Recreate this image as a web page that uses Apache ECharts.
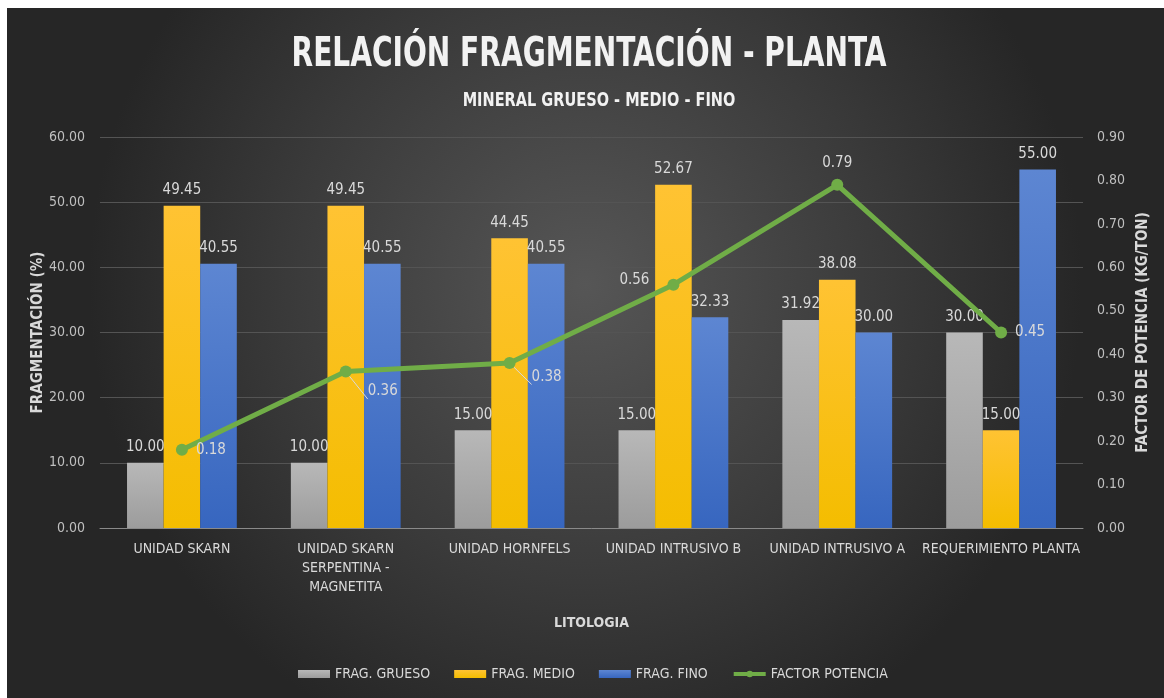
<!DOCTYPE html>
<html>
<head>
<meta charset="utf-8">
<script src="https://cdn.jsdelivr.net/npm/echarts@6/dist/echarts.min.js"></script>
<style>
  html, body { margin: 0; padding: 0; background: #fff; }
  #chart { width: 1164px; height: 698px; }
</style>
</head>
<body>
<div id="chart"></div>
<script>
var categories = ['UNIDAD SKARN', 'UNIDAD SKARN\nSERPENTINA -\nMAGNETITA', 'UNIDAD HORNFELS',
    'UNIDAD INTRUSIVO B', 'UNIDAD INTRUSIVO A', 'REQUERIMIENTO PLANTA'];
var fragGrueso = [10.00, 10.00, 15.00, 15.00, 31.92, 30.00];
var fragMedio = [49.45, 49.45, 44.45, 52.67, 38.08, 15.00];
var fragFino = [40.55, 40.55, 40.55, 32.33, 30.00, 55.00];
var factorPotencia = [0.18, 0.36, 0.38, 0.56, 0.79, 0.45];
// where each factor label sits around its point
var factorLabelPos = ['right', 'right', 'right', 'left', 'top', 'right'];
var factorLabelShift = [[0, 0], [8, 20], [8, 14], [-10, -5], [0, 0], [0, 0]];
var factorLeader = [false, true, true, true, false, false];

var font = "'DejaVu Sans Condensed', sans-serif";
var txt = '#d9d9d9';

function grad(top, bottom) {
    return new echarts.graphic.LinearGradient(0, 0, 0, 1, [
        {offset: 0, color: top},
        {offset: 1, color: bottom}
    ]);
}

var barLabel = {
    show: true,
    position: 'top',
    distance: 8,
    color: txt,
    fontSize: 15,
    fontFamily: font,
    formatter: function (p) { return p.value.toFixed(2); }
};

var option = {
    backgroundColor: '#fff',
    textStyle: {fontFamily: font},
    graphic: [
        {
            type: 'rect',
            z: -10,
            silent: true,
            shape: {x: 7, y: 8, width: 1157, height: 690},
            style: {
                fill: new echarts.graphic.RadialGradient(0.5, 0.4, 0.72, [
                    {offset: 0, color: '#565656'},
                    {offset: 0.6, color: '#3a3a3a'},
                    {offset: 1, color: '#262626'}
                ])
            }
        },
        {
            type: 'text',
            x: 589,
            y: 56,
            scaleX: 0.78,
            silent: true,
            style: {
                text: 'RELACIÓN FRAGMENTACIÓN - PLANTA',
                fill: '#f2f2f2',
                font: 'bold 40px ' + font,
                align: 'center',
                verticalAlign: 'middle',
                shadowColor: 'rgba(0,0,0,0.8)',
                shadowBlur: 4,
                shadowOffsetY: 2
            }
        },
        {
            type: 'text',
            x: 599,
            y: 101,
            scaleX: 0.85,
            silent: true,
            style: {
                text: 'MINERAL GRUESO - MEDIO - FINO',
                fill: '#f2f2f2',
                font: 'bold 19px ' + font,
                align: 'center',
                verticalAlign: 'middle',
                shadowColor: 'rgba(0,0,0,0.8)',
                shadowBlur: 3,
                shadowOffsetY: 1
            }
        }
    ],
    legend: {
        bottom: 12,
        left: 293,
        itemWidth: 32,
        itemHeight: 8,
        itemGap: 24,
        lineStyle: {width: 4},
        textStyle: {color: txt, fontSize: 14, fontFamily: font},
        data: [
            {name: 'FRAG. GRUESO', icon: 'rect'},
            {name: 'FRAG. MEDIO', icon: 'rect'},
            {name: 'FRAG. FINO', icon: 'rect'},
            {name: 'FACTOR POTENCIA'}
        ]
    },
    grid: {left: 100, right: 81, top: 137, bottom: 170},
    xAxis: {
        type: 'category',
        data: categories,
        name: 'LITOLOGIA',
        nameLocation: 'middle',
        nameGap: 88,
        nameTextStyle: {color: txt, fontSize: 14, fontWeight: 'bold', fontFamily: font},
        axisLine: {lineStyle: {color: '#8a8a8a', width: 1}},
        axisTick: {show: false},
        axisLabel: {color: txt, fontSize: 14, margin: 12, lineHeight: 19, fontFamily: font, interval: 0}
    },
    yAxis: [
        {
            type: 'value',
            min: 0,
            max: 60,
            interval: 10,
            name: 'FRAGMENTACIÓN (%)',
            nameLocation: 'middle',
            nameGap: 54,
            nameMoveOverlap: false,
            nameTextStyle: {color: txt, fontSize: 15, fontWeight: 'bold', fontFamily: font},
            axisLine: {show: false},
            axisTick: {show: false},
            splitLine: {lineStyle: {color: '#545454', width: 1}},
            axisLabel: {
                color: '#bfbfbf', fontSize: 14, margin: 15, fontFamily: font,
                formatter: function (v) { return v.toFixed(2); }
            }
        },
        {
            type: 'value',
            min: 0,
            max: 0.9,
            interval: 0.1,
            name: 'FACTOR DE POTENCIA (KG/TON)',
            nameLocation: 'middle',
            nameGap: 53,
            nameRotate: 90,
            nameTextStyle: {color: txt, fontSize: 15, fontWeight: 'bold', fontFamily: font},
            axisLine: {show: false},
            axisTick: {show: false},
            splitLine: {show: false},
            axisLabel: {
                color: '#bfbfbf', fontSize: 14, margin: 14, fontFamily: font,
                formatter: function (v) { return v.toFixed(2); }
            }
        }
    ],
    series: [
        {
            name: 'FRAG. GRUESO',
            type: 'bar',
            data: fragGrueso,
            barGap: '0%',
            barCategoryGap: '33%',
            itemStyle: {color: grad('#b8b8b8', '#9c9c9c')},
            label: barLabel
        },
        {
            name: 'FRAG. MEDIO',
            type: 'bar',
            data: fragMedio,
            itemStyle: {color: grad('#ffc333', '#f4bd00')},
            label: barLabel
        },
        {
            name: 'FRAG. FINO',
            type: 'bar',
            data: fragFino,
            itemStyle: {color: grad('#5d86d2', '#3766bf')},
            label: barLabel
        },
        {
            name: 'FACTOR POTENCIA',
            type: 'line',
            yAxisIndex: 1,
            data: factorPotencia.map(function (v, i) {
                return {
                    value: v,
                    label: {
                        position: factorLabelPos[i],
                        offset: factorLabelShift[i]
                    },
                    labelLine: {show: factorLeader[i]}
                };
            }),
            symbol: 'circle',
            symbolSize: 12,
            z: 5,
            lineStyle: {color: '#70ad47', width: 5},
            itemStyle: {color: '#70ad47'},
            labelLine: {lineStyle: {color: '#d9d9d9', width: 1}},
            label: {
                show: true,
                color: txt,
                fontSize: 15,
                fontFamily: font,
                distance: 8,
                formatter: function (p) { return p.value.toFixed(2); }
            }
        }
    ]
};

var myChart = echarts.init(document.getElementById('chart'));
myChart.setOption(option);
</script>
</body>
</html>
